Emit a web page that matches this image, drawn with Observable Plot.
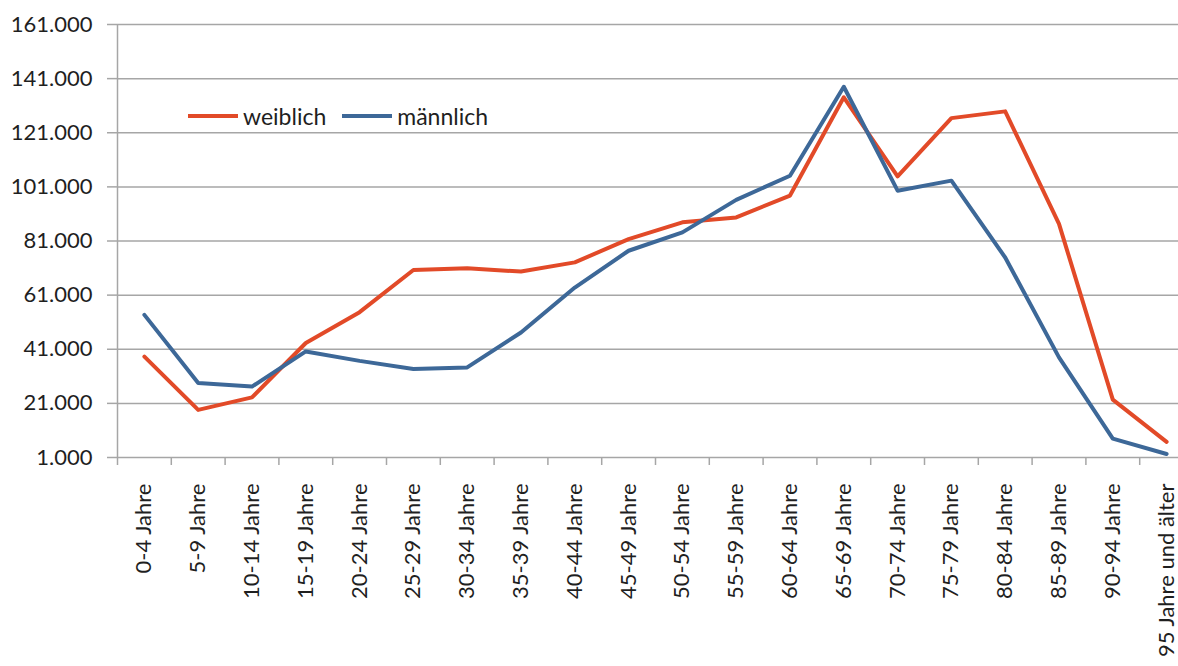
<!DOCTYPE html>
<html>
<head>
<meta charset="utf-8">
<script src="https://cdn.jsdelivr.net/npm/d3@7"></script>
<script src="https://cdn.jsdelivr.net/npm/@observablehq/plot@0.6"></script>
<style>
  html, body { margin: 0; padding: 0; background: #fff; }
  #wrap { position: relative; width: 1178px; height: 666px; overflow: hidden; }
  #legend { position: absolute; left: 188px; top: 102px; display: flex; align-items: center;
            font-family: Lato, sans-serif; font-size: 23px; color: #1f1f1f; white-space: nowrap; }
  #legend .sw { display: inline-block; width: 50px; height: 4px; margin-right: 5px; }
  #legend .item { display: flex; align-items: center; margin-right: 16px; }
</style>
</head>
<body>
<div id="wrap">
  <div id="chart"></div>
  <div id="legend"></div>
</div>
<script>
const categories = ["0-4 Jahre", "5-9 Jahre", "10-14 Jahre", "15-19 Jahre", "20-24 Jahre",
  "25-29 Jahre", "30-34 Jahre", "35-39 Jahre", "40-44 Jahre", "45-49 Jahre",
  "50-54 Jahre", "55-59 Jahre", "60-64 Jahre", "65-69 Jahre", "70-74 Jahre",
  "75-79 Jahre", "80-84 Jahre", "85-89 Jahre", "90-94 Jahre", "95 Jahre und älter"];
const weiblich = [38300, 18600, 23200, 43300, 54700, 70300, 70900, 69700, 73100, 81700,
  87900, 89700, 97800, 134100, 104900, 126400, 128900, 87300, 22400, 6800];
const maennlich = [53700, 28500, 27200, 40200, 36700, 33700, 34300, 47200, 63800, 77400,
  84200, 96200, 105100, 138000, 99600, 103300, 74900, 38000, 8000, 2300];
const yTicks = [1000, 21000, 41000, 61000, 81000, 101000, 121000, 141000, 161000];
const seriesNames = ["weiblich", "männlich"];
const seriesColors = ["#e24a28", "#3d6898"];

const gridColor = "#a6a6a6";
const textColor = "#1f1f1f";
const de = d3.formatLocale({decimal: ",", thousands: ".", grouping: [3], currency: ["", " €"]});
const fmt = de.format(",d");

const table = categories.map((c, i) => ({pos: i + 0.5, cat: c, w: weiblich[i], m: maennlich[i]}));
const centers = categories.map((c, i) => i + 0.5);
const bounds = categories.map((c, i) => i).concat([categories.length]);

const chart = Plot.plot({
  width: 1178,
  height: 666,
  marginLeft: 117,
  marginRight: 0,
  marginTop: 24,
  marginBottom: 209,
  style: {fontFamily: "Lato, sans-serif", fontSize: "22px", color: textColor, background: "#fff"},
  x: {type: "linear", domain: [0, categories.length], range: [117, 1193], label: null},
  y: {domain: [1000, 161000], label: null},
  marks: [
    Plot.gridY(yTicks, {stroke: gridColor, strokeOpacity: 1, strokeWidth: 1.5}),
    Plot.ruleX([0], {stroke: gridColor, strokeWidth: 1.5}),
    Plot.axisY(yTicks, {tickSize: 10, tickPadding: 15, tickFormat: fmt, stroke: gridColor, strokeWidth: 1.5, fill: textColor, fontSize: 22, label: null}),
    Plot.axisX(bounds, {tickSize: 8, tickFormat: () => "", stroke: gridColor, strokeWidth: 1.5, label: null}),
    Plot.axisX(centers, {tickSize: 0, tickPadding: 26, tickRotate: -90, tickFormat: d => categories[Math.floor(d)], fill: textColor, fontSize: 22, label: null}),
    Plot.lineY(table, {x: "pos", y: "w", stroke: seriesColors[0], strokeWidth: 4}),
    Plot.lineY(table, {x: "pos", y: "m", stroke: seriesColors[1], strokeWidth: 4})
  ]
});
document.getElementById("chart").appendChild(chart);

const legend = document.getElementById("legend");
seriesNames.forEach((name, i) => {
  const item = document.createElement("span");
  item.className = "item";
  const sw = document.createElement("span");
  sw.className = "sw";
  sw.style.background = seriesColors[i];
  item.appendChild(sw);
  item.appendChild(document.createTextNode(name));
  legend.appendChild(item);
});
</script>
</body>
</html>
